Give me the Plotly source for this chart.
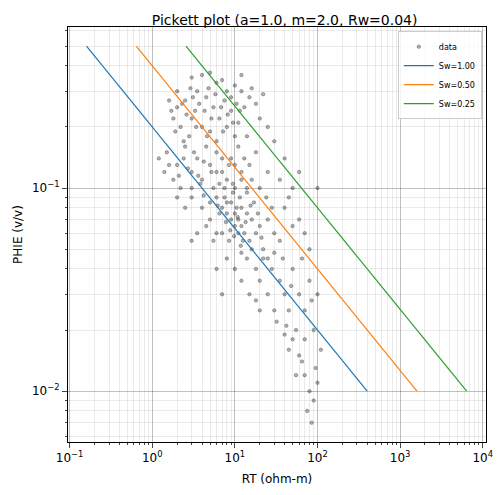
import plotly.graph_objects as go

pts = [(3,0.35),(4,0.36),(5,0.37),(6,0.33),(7,0.34),(8,0.3),(10,0.32),(12,0.3),(15,0.28),(18,0.26),(2,0.25),(2.5,0.27),(3,0.22),(3.5,0.3),(4.5,0.28),(5.5,0.25),(6.5,0.22),(7.5,0.27),(9,0.24),(11,0.21),(13,0.25),(20,0.22),(25,0.2),(1.8,0.22),(2.2,0.2),(2.8,0.18),(3.3,0.24),(4,0.2),(5,0.19),(6,0.17),(8,0.2),(10,0.18),(14,0.18),(30,0.17),(1.6,0.27),(2,0.3),(12,0.36),(16,0.31),(22,0.29),(9,0.28),
(2.3,0.26),(2.6,0.23),(3.1,0.28),(3.7,0.26),(4.3,0.24),(4.8,0.31),(5.2,0.22),(5.8,0.29),(6.8,0.25),(7.2,0.19),(8.2,0.23),(9.5,0.21),(10.5,0.26),(11.5,0.24),(1.9,0.19),(2.4,0.17),(3.4,0.2),(4.6,0.18),(1.7,0.24),(2.9,0.31),
(1.2,0.14),(1.5,0.15),(2,0.13),(2.5,0.16),(3,0.12),(3.5,0.14),(4,0.11),(5,0.13),(6,0.15),(7,0.12),(8,0.11),(9,0.14),(10,0.1),(12,0.12),(15,0.13),(20,0.1),(25,0.12),(35,0.11),(50,0.1),(100,0.1),(1.8,0.11),(2.2,0.1),(3,0.1),(4.5,0.16),(5.5,0.1),(6,0.12),(7.5,0.1),(11,0.16),(14,0.1),(18,0.15),(40,0.14),(60,0.12),(1.4,0.12),(2.7,0.125),(3.8,0.105),(4.2,0.135),(8.5,0.13),(9.5,0.105),(13,0.14),(16,0.11),
(2.1,0.115),(2.4,0.14),(3.2,0.15),(3.6,0.115),(5.2,0.12),(6.5,0.105),(7,0.14),(10,0.13),(12,0.11),(1.6,0.13),
(3,0.09),(4,0.08),(5,0.07),(6,0.09),(7,0.06),(8,0.075),(9,0.085),(10,0.065),(11,0.07),(12,0.08),(13,0.06),(14,0.075),(15,0.055),(16,0.07),(18,0.06),(20,0.065),(22,0.05),(25,0.07),(30,0.06),(35,0.055),(40,0.08),(50,0.065),(60,0.07),(70,0.06),(80,0.05),(3.5,0.06),(4.5,0.065),(5.5,0.055),(6.5,0.075),(7.5,0.09),(8.5,0.055),(9.5,0.095),(10.5,0.08),(11.5,0.09),(12.5,0.055),(2.5,0.08),(2,0.09),(3,0.055),(17,0.085),(24,0.09),(28,0.08),(45,0.09),(9,0.07),(10,0.075),(11,0.06),(12,0.065),(7,0.08),(8,0.085),(6,0.06),(14,0.095),
(8.8,0.062),(9.8,0.058),(10.8,0.072),(11.8,0.052),(13.5,0.068),(7.8,0.068),(6.2,0.082),(5,0.085),(4.2,0.092),(15.5,0.082),(19,0.075),(21,0.057),
(8,0.045),(10,0.04),(12,0.035),(14,0.045),(15,0.03),(18,0.04),(20,0.035),(22,0.045),(25,0.03),(28,0.04),(30,0.025),(35,0.035),(40,0.03),(45,0.025),(50,0.04),(55,0.02),(60,0.03),(70,0.025),(80,0.035),(90,0.02),(100,0.03),(6,0.04),(7,0.03),(20,0.025),(25,0.045),(32,0.022),(38,0.045),(42,0.021),(65,0.045),(85,0.028),(16,0.05),(12,0.048),(18,0.028),(30,0.048),(48,0.033),
(50,0.018),(60,0.015),(70,0.012),(80,0.01),(90,0.009),(100,0.011),(75,0.008),(85,0.007),(65,0.014),(55,0.012),(45,0.016),(95,0.013),(40,0.019),(110,0.016),(70,0.018)]
rt_data = [p[0] for p in pts]
phi_data = [p[1] for p in pts]

line_phi = [0.5, 0.01]
rt_sw100 = [0.16, 400]
rt_sw050 = [0.64, 1600]
rt_sw025 = [2.56, 6400]

fig = go.Figure()
fig.add_trace(go.Scatter(x=rt_data, y=phi_data, mode="markers", name="data",
    marker=dict(color="rgba(0,0,0,0.3)", size=3.5, line=dict(width=0.6, color="rgba(0,0,0,0.45)"))))
for name, rt, c in [("Sw=1.00", rt_sw100, "#1f77b4"), ("Sw=0.50", rt_sw050, "#ff7f0e"), ("Sw=0.25", rt_sw025, "#2ca02c")]:
    fig.add_trace(go.Scatter(x=rt, y=line_phi, mode="lines", name=name, line=dict(color=c, width=1.2)))

xt = [0.1, 1, 10, 100, 1000, 10000]
xtt = ["10<sup>−1</sup>", "10<sup>0</sup>", "10<sup>1</sup>", "10<sup>2</sup>", "10<sup>3</sup>", "10<sup>4</sup>"]
ax = dict(type="log", showline=True, linecolor="black", mirror=True, ticks="outside", automargin=False,
          gridcolor="rgba(0,0,0,0.18)", zeroline=False,
          minor=dict(showgrid=True, dtick="D1", gridcolor="rgba(0,0,0,0.08)", ticks="outside", ticklen=2),
          tickfont=dict(size=12, color="black"))
fig.update_layout(
    width=494, height=487, plot_bgcolor="white", paper_bgcolor="white",
    font=dict(family="DejaVu Sans", color="black"),
    margin=dict(l=60, r=16, t=19, b=53),
    title=dict(text="Pickett plot (a=1.0, m=2.0, Rw=0.04)", x=0.56, xanchor="center", y=0.985, yanchor="top", font=dict(size=14)),
    xaxis=dict(ax, range=[-1.02, 4.04], tickvals=xt, ticktext=xtt,
               title=dict(text="RT (ohm-m)", font=dict(size=12), standoff=10)),
    yaxis=dict(ax, range=[-2.25, -0.207], tickvals=[0.01, 0.1], ticktext=["10<sup>−2</sup>", "10<sup>−1</sup>"],
               title=dict(text="PHIE (v/v)", font=dict(size=12), standoff=6)),
    legend=dict(x=0.99, y=0.99, xanchor="right", yanchor="top", bgcolor="rgba(255,255,255,0.8)",
                bordercolor="#cccccc", borderwidth=1, font=dict(size=8), itemwidth=30, tracegroupgap=0),
)
fig.write_html("out.html")
